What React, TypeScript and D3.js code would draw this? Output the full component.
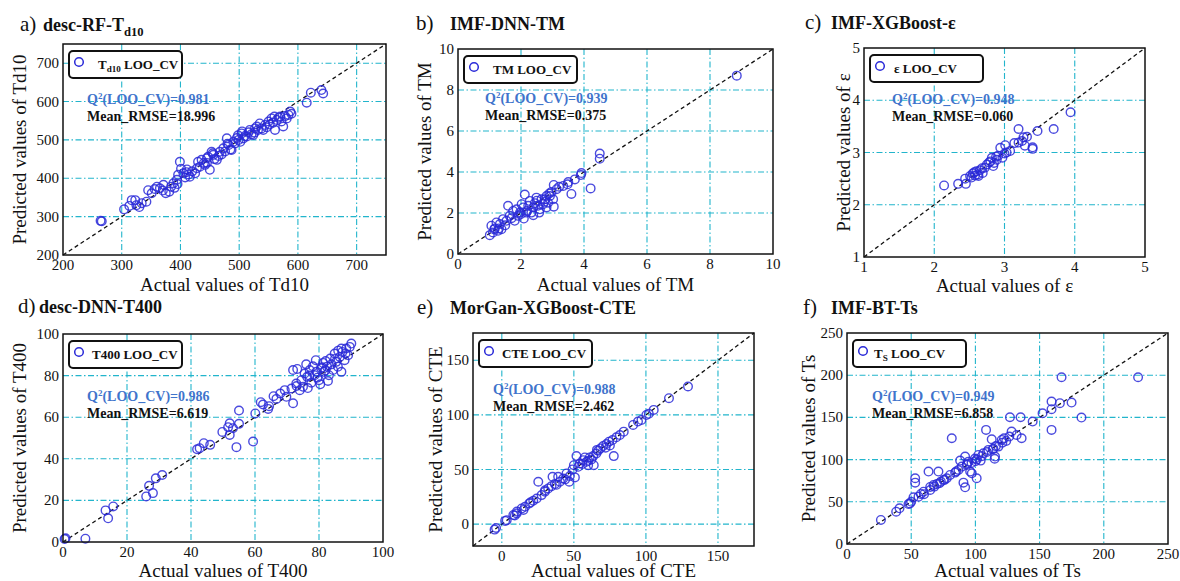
import * as d3 from "d3";

const W = 1180;
const H = 581;
const FONT = "'Liberation Serif', 'Times New Roman', serif";

const GRID = "#22b5cc";
const DOT = "#2a2ad8";
const Q2_BLUE = "#3f74cc";

// [actual, predicted]
const td10Points: [number, number][] = [
  [264, 289], [266, 288], [304, 319], [313, 328], [317, 343], [323, 343], [325, 330], [334, 335], [342, 339],
  [345, 369], [351, 361], [356, 372], [360, 378], [365, 374], [371, 383], [375, 361], [381, 365], [384, 378],
  [388, 387], [390, 375], [394, 396], [396, 409], [399, 443], [401, 425], [405, 413], [408, 402], [411, 423],
  [414, 410], [416, 404], [420, 418], [425, 413], [428, 426], [430, 443], [433, 430], [436, 448], [440, 440],
  [442, 435], [445, 452], [447, 456], [450, 422], [453, 469], [456, 461], [458, 450], [462, 448], [465, 458],
  [467, 469], [470, 462], [473, 478], [476, 470], [479, 504], [480, 490], [482, 487], [485, 475], [487, 474],
  [490, 495], [493, 491], [496, 505], [499, 500], [502, 495], [504, 517], [507, 504], [510, 510], [513, 509],
  [516, 520], [518, 526], [521, 515], [524, 513], [527, 530], [530, 535], [532, 526], [535, 543], [538, 530],
  [541, 526], [544, 539], [547, 533], [550, 548], [552, 540], [555, 556], [558, 545], [561, 526], [564, 552],
  [567, 558], [570, 561], [572, 548], [575, 535], [578, 562], [581, 556], [584, 565], [587, 574], [589, 568],
  [615, 597], [622, 623], [640, 630], [643, 621], [445, 440], [455, 465], [395, 385], [370, 368], [330, 325],
  [410, 416], [498, 512], [526, 519], [560, 561], [505, 522],
];

const tmPoints: [number, number][] = [
  [8.85, 8.7], [4.5, 4.9], [4.5, 4.65], [3.9, 3.85], [3.92, 3.95], [4.21, 3.2], [3.6, 2.93], [3.5, 3.51],
  [3.48, 3.4], [3.34, 3.32], [3.04, 3.37], [3.13, 3.16], [3.02, 2.67], [3.04, 2.31], [2.97, 3.03], [2.81, 2.83],
  [2.86, 2.5], [2.7, 2.43], [2.65, 2.67], [2.6, 2.18], [2.49, 2.75], [2.44, 2.48], [2.39, 2.27], [2.28, 2.59],
  [2.23, 2.35], [2.12, 2.9], [2.07, 2.27], [2.02, 2.43], [2.09, 1.73], [1.97, 2.02], [1.86, 2.18], [1.91, 1.86],
  [1.75, 2.1], [1.64, 1.86], [1.59, 2.35], [1.54, 1.62], [1.43, 1.7], [1.33, 1.46], [1.22, 1.54], [1.17, 1.25],
  [1.06, 1.38], [1.01, 0.92], [1.11, 1.05], [1.27, 1.13], [1.38, 1.21], [1.8, 1.62], [2.17, 2.02], [2.33, 2.02],
  [2.54, 2.35], [2.76, 2.67], [2.92, 2.83], [3.21, 3.28], [3.71, 3.64], [2.39, 1.89], [2.58, 2.02], [2.81, 2.27],
  [1.5, 1.4], [1.7, 1.75], [2.0, 1.95], [2.2, 2.1], [2.5, 2.6], [2.9, 2.95], [1.3, 1.25], [1.15, 1.2], [2.75, 2.55],
];

const epsPoints: [number, number][] = [
  [2.14, 2.37], [2.34, 2.4], [2.44, 2.5], [2.45, 2.4], [2.51, 2.55], [2.55, 2.6], [2.58, 2.56], [2.6, 2.64],
  [2.63, 2.55], [2.65, 2.66], [2.69, 2.61], [2.72, 2.71], [2.75, 2.77], [2.78, 2.81], [2.82, 2.9], [2.84, 2.74],
  [2.85, 2.8], [2.89, 2.86], [2.91, 2.94], [2.94, 3.09], [2.97, 2.9], [3.01, 3.14], [3.03, 3.0], [3.08, 3.03],
  [3.14, 3.18], [3.2, 3.19], [3.2, 3.45], [3.27, 3.29], [3.29, 3.13], [3.32, 3.3], [3.4, 3.1], [3.4, 3.07],
  [3.47, 3.41], [3.7, 3.45], [3.94, 3.77], [2.57, 2.62], [2.62, 2.58], [2.68, 2.7], [2.8, 2.83], [2.88, 2.92],
  [3.0, 2.98], [3.25, 3.22], [2.53, 2.52],
];

const t400Points: [number, number][] = [
  [0.5, 1.4], [0.8, 1.8], [7, 1.6], [13.3, 15.2], [14.1, 11.4], [15.7, 17.1], [26, 21.9], [26.9, 27], [28.1, 23.5],
  [29, 30.6], [31, 32.2], [41.9, 44.6], [42.7, 45.1], [44, 47.5], [46, 46.7], [49.8, 52.9], [51.6, 55.2],
  [52.1, 57.1], [52.1, 51.5], [53.1, 54.7], [54.2, 45.6], [55, 63.2], [55, 56.8], [59.4, 48.3], [60.1, 61.8],
  [61.8, 67.2], [62.5, 66.1], [64.1, 64], [64.4, 65.3], [65.8, 70.1], [66.7, 68.8], [67.9, 71.4], [69.3, 73],
  [69.8, 69.8], [71.4, 73.8], [71.9, 82.7], [71.9, 66.7], [72.9, 76.2], [73.2, 83.2], [74, 73], [74.5, 77.8],
  [75, 74.6], [75.5, 81], [76, 85.4], [76.3, 79.4], [77.1, 82.7], [77.6, 76.6], [78.1, 84.5], [78.6, 80.2],
  [79.2, 81.8], [80, 77.8], [80.4, 75.8], [80.7, 83.5], [81.3, 86.1], [81.5, 81.8], [82.1, 87], [82.5, 84.3],
  [82.8, 77.4], [83.1, 80.2], [83.5, 88.2], [83.9, 85.4], [84.4, 82.7], [84.9, 90.6], [85.4, 86.6], [85.9, 84.3],
  [86.5, 89], [87, 81.8], [87.3, 91.4], [88, 87.4], [88.5, 93], [89.1, 89.8], [89.6, 93.8], [90.1, 95.4],
  [88.3, 90.6], [87, 93], [79, 87.4], [73, 75], [76.5, 74], [79.5, 79], [82, 82.5], [85, 88], [86, 92], [81, 84], [77, 80],
];

const ctePoints: [number, number][] = [
  [-5, -5], [-4, -3.5], [2.3, 3], [3.4, 3.6], [8, 8.3], [10.3, 9.8], [10.5, 11.5], [13.8, 14.4], [16.1, 15.9],
  [19.1, 19], [21.8, 21.4], [24.2, 23.5], [25.3, 38.8], [27.6, 26.6], [29.9, 29.7], [32.2, 32.7], [34.5, 34.8],
  [35.2, 43.4], [36.8, 36.7], [39.1, 43.4], [40.3, 38.8], [42.6, 41.8], [44.9, 46.4], [46.8, 38.8], [47.2, 44.1],
  [49.1, 50.1], [50, 54], [50.7, 42.8], [51.8, 62.3], [53, 52.5], [54.1, 55.6], [56.4, 58.6], [57.6, 61.1],
  [58.7, 57.1], [59.9, 54], [61, 61.1], [62.2, 59.2], [63.4, 62.3], [63.8, 54], [65.6, 64.7], [66.8, 67.2],
  [68.4, 69.3], [70.3, 71.5], [72.6, 73.3], [74.4, 75.5], [77.7, 62.3], [76.8, 77], [79.5, 79.5], [81.9, 81.6],
  [84.6, 84.7], [91.1, 90.8], [94.5, 93.9], [96.9, 95.4], [100.3, 100], [102, 101], [105.4, 104.6], [116, 115.3],
  [129.2, 126], [66, 68], [72, 70], [75, 72], [60, 58], [56, 55], [44, 41], [38, 36], [30, 31], [20, 20], [15, 13], [9, 8],
];

const tsPoints: [number, number][] = [
  [26.4, 28.5], [38.3, 38.3], [40.9, 42.3], [47.9, 47.4], [53.1, 77.9], [53.1, 72.7], [51.8, 55.3], [55.7, 56.1],
  [57.5, 59.3], [59.6, 62], [63.5, 85.8], [64.8, 67.6], [67.4, 70], [70, 71.1], [71.2, 85.8], [73.1, 73.9],
  [75.1, 75.9], [77.7, 77.9], [80.3, 81.8], [81.6, 125.3], [84.2, 84.6], [86.8, 87.7], [88.1, 98.8], [89.4, 91.7],
  [90.7, 72.7], [92, 67.2], [92, 103.6], [93.3, 93.7], [94.6, 97.6], [95.9, 85.8], [97.2, 83.8], [99.7, 101.2],
  [101, 77.9], [102.3, 105.5], [104.1, 98.8], [106.2, 107.5], [108.3, 135.2], [110.1, 111.5], [112.7, 124.1],
  [113.5, 112.3], [115.3, 103.6], [117.9, 115.4], [120.5, 123.3], [122.3, 125.3], [126.4, 127.3], [126.9, 150.2],
  [128.2, 133.2], [132.1, 129.2], [135.2, 150.2], [136, 125.3], [144.6, 145.1], [152.3, 154.9], [159.3, 159.7],
  [159.3, 168.8], [159.3, 135.2], [165.8, 166.8], [167.1, 197.6], [174.9, 167.6], [182.6, 149.8], [226.7, 197.6],
  [93.5, 95], [97, 96], [101, 100], [105, 104], [109, 109], [114, 113], [116, 116], [121, 120], [124, 122],
  [64.8, 64], [68, 68], [72, 72], [76, 76], [85, 86], [60, 59], [50, 50], [49, 48], [115, 101], [100, 98],
];

const td10Ticks = [200, 300, 400, 500, 600, 700];
const tmTicks = [0, 2, 4, 6, 8, 10];
const epsTicks = [1, 2, 3, 4, 5];
const t400Ticks = [0, 20, 40, 60, 80, 100];
const cteTicks = [0, 50, 100, 150];
const tsTicks = [0, 50, 100, 150, 200, 250];

const q2Values = ["0.981", "0.939", "0.948", "0.986", "0.988", "0.949"];
const rmseValues = ["18.996", "0.375", "0.060", "6.619", "2.462", "6.858"];

type Seg = { t: string; sub?: boolean };

interface Panel {
  letter: string;
  title: Seg[];
  legend: Seg[];
  yLabel: string;
  xLabel: string;
  points: [number, number][];
  domain: [number, number];
  ticks: number[];
  // layout
  box: [number, number, number, number]; // x0, x1, y0, y1
  letterX: number;
  nameX: number;
  titleY: number;
  yLabelX: number;
  xLabelY: number;
  ann: [number, number];
  legendDx: number;
}

const panels: Panel[] = [
  {
    letter: "a)", title: [{ t: "desc-RF-T" }, { t: "d10", sub: true }],
    legend: [{ t: "T" }, { t: "d10", sub: true }, { t: " LOO_CV" }],
    yLabel: "Predicted values of Td10", xLabel: "Actual values of Td10",
    points: td10Points, domain: [200, 750], ticks: td10Ticks,
    box: [63, 386, 44, 255], letterX: 20, nameX: 43, titleY: 31, yLabelX: 26, xLabelY: 291, ann: [87, 104],
    legendDx: 29,
  },
  {
    letter: "b)", title: [{ t: "IMF-DNN-TM" }],
    legend: [{ t: "TM LOO_CV" }],
    yLabel: "Predicted values of TM", xLabel: "Actual values of TM",
    points: tmPoints, domain: [0, 10], ticks: tmTicks,
    box: [458, 773, 49, 254], letterX: 416, nameX: 450, titleY: 30, yLabelX: 431, xLabelY: 291, ann: [485, 103],
    legendDx: 29,
  },
  {
    letter: "c)", title: [{ t: "IMF-XGBoost-ε" }],
    legend: [{ t: "ε LOO_CV" }],
    yLabel: "Predicted values of ε", xLabel: "Actual values of ε",
    points: epsPoints, domain: [1, 5], ticks: epsTicks,
    box: [864, 1145, 48, 257], letterX: 805, nameX: 831, titleY: 29, yLabelX: 850, xLabelY: 292, ann: [892, 104],
    legendDx: 24,
  },
  {
    letter: "d)", title: [{ t: "desc-DNN-T400" }],
    legend: [{ t: "T400 LOO_CV" }],
    yLabel: "Predicted values of T400", xLabel: "Actual values of T400",
    points: t400Points, domain: [0, 100], ticks: t400Ticks,
    box: [63, 383, 334, 542], letterX: 18, nameX: 39, titleY: 313, yLabelX: 26, xLabelY: 577, ann: [87, 401],
    legendDx: 23,
  },
  {
    letter: "e)", title: [{ t: "MorGan-XGBoost-CTE" }],
    legend: [{ t: "CTE LOO_CV" }],
    yLabel: "Predicted values of CTE", xLabel: "Actual values of CTE",
    points: ctePoints, domain: [-20, 175], ticks: cteTicks,
    box: [473, 754, 333, 546], letterX: 417, nameX: 450, titleY: 314, yLabelX: 442, xLabelY: 577, ann: [493, 394],
    legendDx: 23,
  },
  {
    letter: "f)", title: [{ t: "IMF-BT-Ts" }],
    legend: [{ t: "T" }, { t: "S", sub: true }, { t: " LOO_CV" }],
    yLabel: "Predicted values of Ts", xLabel: "Actual values of Ts",
    points: tsPoints, domain: [0, 250], ticks: tsTicks,
    box: [847, 1168, 333, 544], letterX: 803, nameX: 831, titleY: 314, yLabelX: 815, xLabelY: 577, ann: [872, 401],
    legendDx: 21,
  },
];

function Segs({ segs, size }: { segs: Seg[]; size: number }) {
  // subscripts drop a little and shrink, then come back up
  return (
    <>
      {segs.map((s, i) => {
        const prevSub = i > 0 && segs[i - 1].sub;
        const dy = s.sub ? size * 0.25 : prevSub ? -size * 0.25 : 0;
        return (
          <tspan key={i} dy={dy} fontSize={s.sub ? size * 0.7 : size}>
            {s.t}
          </tspan>
        );
      })}
    </>
  );
}

function ScatterPanel({ p, idx }: { p: Panel; idx: number }) {
  const [x0, x1, y0, y1] = p.box;
  const x = d3.scaleLinear().domain(p.domain).range([x0, x1]);
  const y = d3.scaleLinear().domain(p.domain).range([y1, y0]);
  const gridTicks = p.ticks.filter((t) => t > p.domain[0] && t < p.domain[1]);
  const cx = (x0 + x1) / 2;
  const cy = (y0 + y1) / 2;
  const lx = x0 + 6;
  const ly = y0 + 7;

  return (
    <g>
      {/* title */}
      <text x={p.letterX} y={p.titleY} fontSize={21} fill="#111">
        {p.letter}
      </text>
      <text x={p.nameX} y={p.titleY} fontSize={18} fontWeight={700} fill="#111">
        <Segs segs={p.title} size={18} />
      </text>

      {/* grid */}
      {gridTicks.map((t) => (
        <g key={t}>
          <line x1={x(t)} x2={x(t)} y1={y0} y2={y1} stroke={GRID} strokeWidth={1.1} strokeDasharray="6 2.5 1.5 2.5" />
          <line x1={x0} x2={x1} y1={y(t)} y2={y(t)} stroke={GRID} strokeWidth={1.1} strokeDasharray="6 2.5 1.5 2.5" />
        </g>
      ))}

      {/* y = x */}
      <line
        x1={x(p.domain[0])}
        y1={y(p.domain[0])}
        x2={x(p.domain[1])}
        y2={y(p.domain[1])}
        stroke="#111"
        strokeWidth={1.3}
        strokeDasharray="4 3"
      />

      {/* points */}
      {p.points.map(([a, b], i) => (
        <circle key={i} cx={x(a)} cy={y(b)} r={4.3} fill="none" stroke={DOT} strokeOpacity={0.85} strokeWidth={1.4} />
      ))}

      {/* frame */}
      <rect x={x0} y={y0} width={x1 - x0} height={y1 - y0} fill="none" stroke="#111" strokeWidth={1.5} />

      {/* tick labels */}
      {p.ticks.map((t) => (
        <text key={"x" + t} x={x(t)} y={y1 + 15} fontSize={15} textAnchor="middle" fill="#111">
          {t}
        </text>
      ))}
      {p.ticks.map((t) => (
        <text key={"y" + t} x={x0 - 4} y={y(t) + 5} fontSize={15} textAnchor="end" fill="#111">
          {t}
        </text>
      ))}

      {/* axis titles */}
      <text x={cx} y={p.xLabelY} fontSize={19} textAnchor="middle" fill="#111">
        {p.xLabel}
      </text>
      <text
        transform={`translate(${p.yLabelX},${cy}) rotate(-90)`}
        fontSize={19}
        textAnchor="middle"
        fill="#111">
        {p.yLabel}
      </text>

      {/* legend */}
      <rect x={lx} y={ly} width={113} height={27} rx={4} fill="#fff" stroke="#111" strokeWidth={2} />
      <circle cx={lx + 10} cy={ly + 11} r={4.3} fill="none" stroke={DOT} strokeWidth={1.5} />
      <text x={lx + p.legendDx} y={ly + 18} fontSize={13} fontWeight={700} fill="#111">
        <Segs segs={p.legend} size={13} />
      </text>

      {/* metrics */}
      <text x={p.ann[0]} y={p.ann[1]} fontSize={14} fontWeight={700} fill={Q2_BLUE}>
        Q<tspan dy={-5} fontSize={9}>2</tspan>
        <tspan dy={5}>(LOO_CV)={q2Values[idx]}</tspan>
      </text>
      <text x={p.ann[0]} y={p.ann[1] + 17} fontSize={14} fontWeight={700} fill="#111">
        Mean_RMSE={rmseValues[idx]}
      </text>
    </g>
  );
}

export default function App() {
  return (
    <div style={{ position: "absolute", left: 0, top: 0 }}>
      <svg width={W} height={H} style={{ display: "block", background: "#fff" }} fontFamily={FONT}>
        {panels.map((p, i) => (
          <ScatterPanel key={i} p={p} idx={i} />
        ))}
      </svg>
    </div>
  );
}
